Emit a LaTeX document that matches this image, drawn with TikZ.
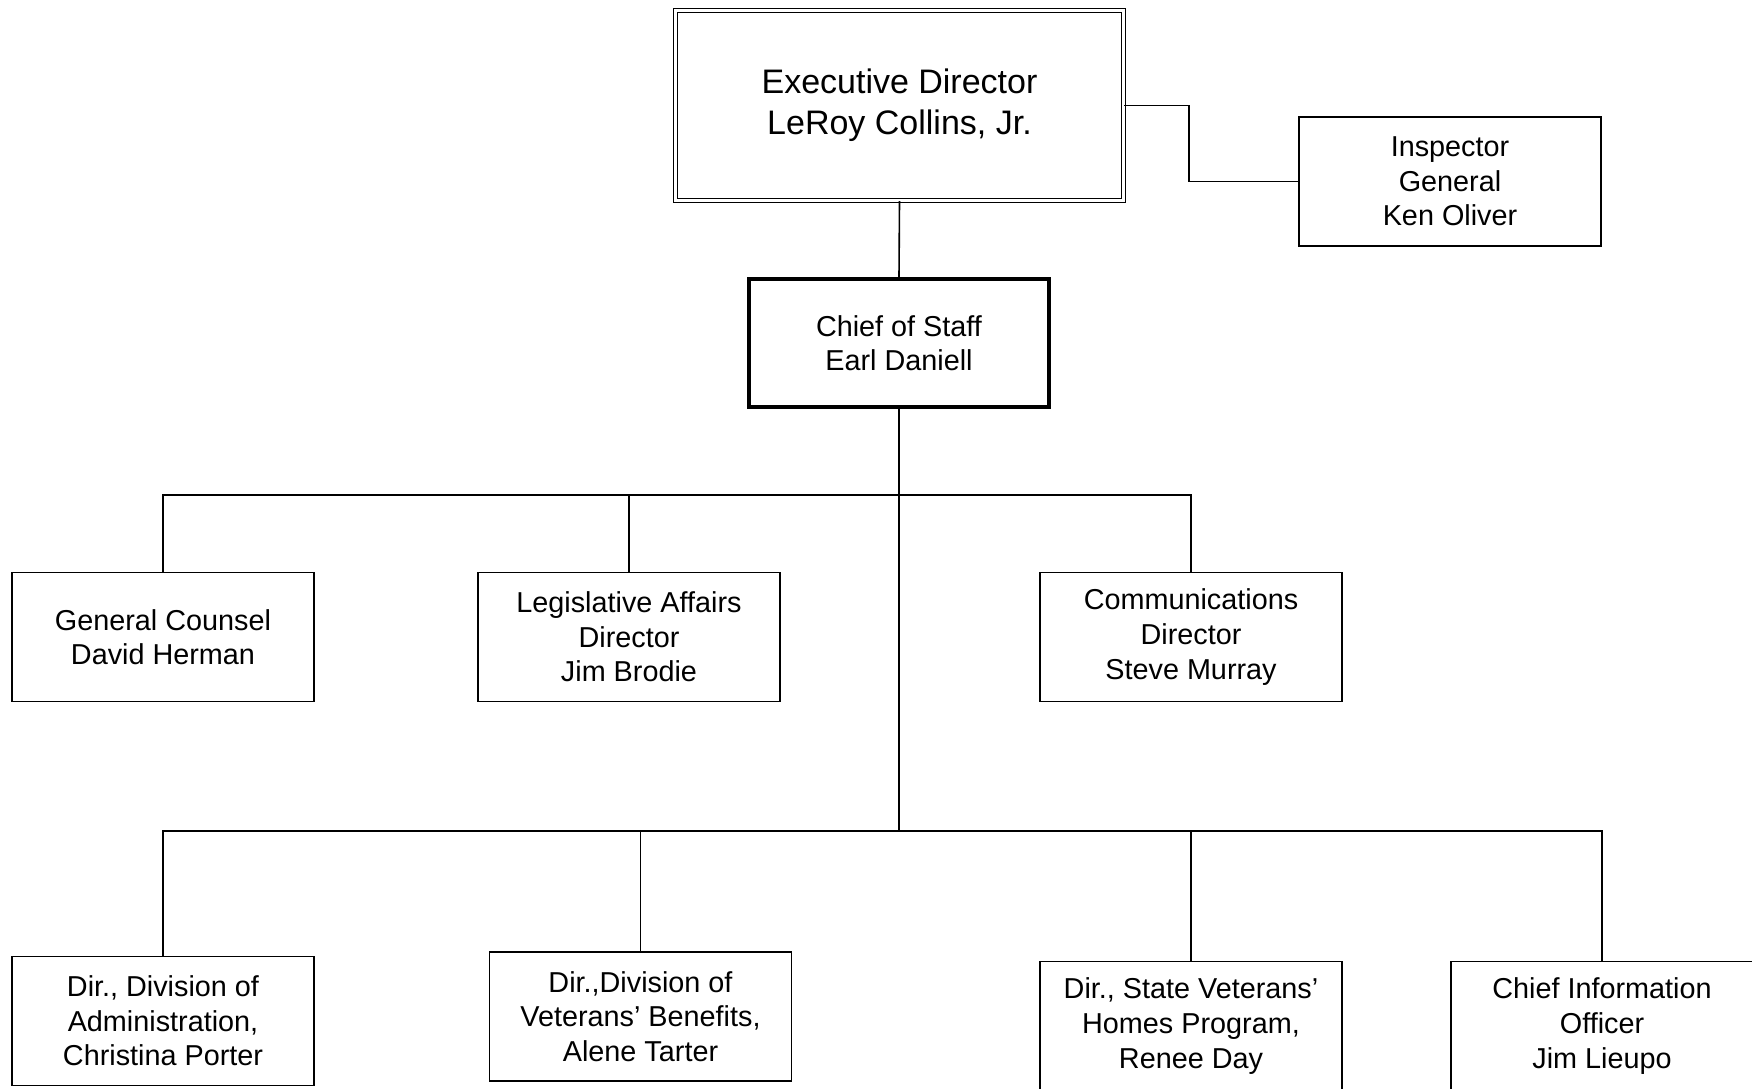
\documentclass[tikz,border=0pt]{standalone}
\usepackage{fontspec}
\setmainfont{Liberation Sans}
\usetikzlibrary{positioning}

\begin{document}
\begin{tikzpicture}[x=0.5pt,y=-0.5pt,
	office/.style={draw,line width=0.6pt,minimum width=151pt,minimum height=64.5pt,inner sep=0pt,align=center,font=\fontsize{14.4}{17.3}\selectfont},
	topoffice/.style={office,double,double distance=1.4pt,minimum width=224pt,minimum height=95pt,font=\fontsize{17}{20.6}\selectfont},
	chiefoffice/.style={office,line width=2pt,minimum width=150pt,minimum height=64pt},
	link/.style={line width=0.8pt}]
	\useasboundingbox (0,0) rectangle (1752,1088);
	\clip (0,0) rectangle (1752,1088);
	\draw node (exec)[topoffice] at (899.5,105.5) {Executive Director\\LeRoy Collins, Jr.};
	\draw node (insp)[office] at (1450,181.5) {Inspector\\General\\Ken Oliver};
	\draw node (chief)[chiefoffice] at (899,343) {Chief of Staff\\Earl Daniell};
	\draw node (counsel)[office] at (163,637) {General Counsel\\David Herman};
	\draw node (legis)[office] at (629,637) {Legislative Affairs\\Director\\Jim Brodie};
	\draw node (comms)[office] at (1191,637) {Communications\\Director\\Steve Murray};
	\draw node (admin)[office] at (163,1021) {Dir., Division of\\Administration,\\Christina Porter};
	\draw node (benefits)[office] at (640.5,1016.5) {Dir.,Division of\\Veterans’ Benefits,\\Alene Tarter};
	\draw node (homes)[office] at (1191,1026) {Dir., State Veterans’\\Homes Program,\\Renee Day};
	\draw node (cio)[office] at (1602,1026) {Chief Information\\Officer\\Jim Lieupo};
	\coordinate (staffbus) at (899,495);
	\coordinate (divbus) at (899,831);
	\draw[link] (exec.south)--(chief.north);
	\draw[link] (exec.east)--++(65,0) |- (insp.west);
	\draw[link] (chief.south)--(divbus);
	\draw[link] (counsel.north) |- (staffbus) -| (comms.north);
	\draw[link] (legis.north)--(legis.north |- staffbus);
	\draw[link] (admin.north) |- (divbus) -| (cio.north);
	\draw[link] (benefits.north)--(benefits.north |- divbus);
	\draw[link] (homes.north)--(homes.north |- divbus);
\end{tikzpicture}
\end{document}
